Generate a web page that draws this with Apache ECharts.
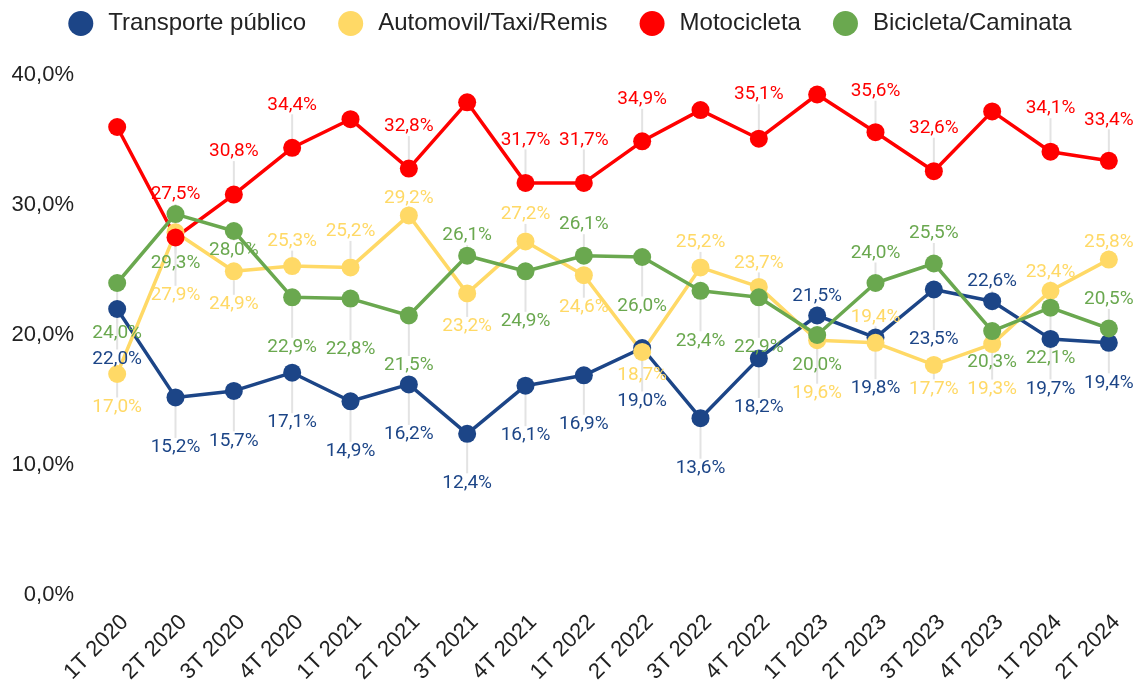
<!DOCTYPE html>
<html>
<head>
<meta charset="utf-8">
<script src="https://cdn.jsdelivr.net/npm/echarts@6/dist/echarts.min.js"></script>
<style>
  html, body { margin: 0; padding: 0; background: #ffffff; }
  #chart { width: 1140px; height: 686px; }
</style>
</head>
<body>
<div id="chart"></div>
<script>
const categories = ['1T 2020', '2T 2020', '3T 2020', '4T 2020', '1T 2021', '2T 2021', '3T 2021', '4T 2021',
    '1T 2022', '2T 2022', '3T 2022', '4T 2022', '1T 2023', '2T 2023', '3T 2023', '4T 2023', '1T 2024', '2T 2024']

const transportePublico = [22.0, 15.2, 15.7, 17.1, 14.9, 16.2, 12.4, 16.1, 16.9, 19.0, 13.6, 18.2, 21.5, 19.8, 23.5, 22.6, 19.7, 19.4]
const automovil = [17.0, 27.9, 24.9, 25.3, 25.2, 29.2, 23.2, 27.2, 24.6, 18.7, 25.2, 23.7, 19.6, 19.4, 17.7, 19.3, 23.4, 25.8]
const motocicleta = [36.0, 27.5, 30.8, 34.4, 36.6, 32.8, 37.9, 31.7, 31.7, 34.9, 37.3, 35.1, 38.5, 35.6, 32.6, 37.2, 34.1, 33.4]
const bicicleta = [24.0, 29.3, 28.0, 22.9, 22.8, 21.5, 26.1, 24.9, 26.1, 26.0, 23.4, 22.9, 20.0, 24.0, 25.5, 20.3, 22.1, 20.5]

const yTicks = [0, 10, 20, 30, 40]

// vertical label shift from the point (px), null = label not shown
const transporteLabelDy = [50, 50, 50, 50, 50, 50, 49, 50, 49, 53, 50, 49, -19, 51, 50, -20, 50, 40]
const automovilLabelDy = [33, 63, 33, -25, -36, -17, 33, -27, 32, 23, -25, -24, 53, -26, 24, 45, -19, -17]
const motoLabelDy = [null, -43, -43, -43, null, -42, null, -43, -43, -42, null, -44, null, -41, -43, null, -43, -41]
const bicicletaLabelDy = [50, 49, 19, 50, 51, 50, -20, 50, -31, 49, 50, 50, 30, -30, -30, 31, 51, -29]

const pct = v => v.toFixed(1).replace('.', ',') + '%'

function makeSeries(name, values, color, labelDy) {
    return {
        name: name,
        type: 'line',
        data: values.map((v, i) => ({
            value: v,
            label: { show: labelDy[i] != null }
        })),
        symbol: 'circle',
        symbolSize: 18,
        lineStyle: { width: 3.5, color: color },
        itemStyle: { color: color },
        label: {
            show: true,
            position: 'inside',
            formatter: p => pct(p.value),
            color: color,
            fontFamily: 'Roboto',
            fontSize: 19
        },
        labelLine: {
            show: true,
            lineStyle: { color: '#e3e3e3', width: 2 }
        },
        labelLayout: params => ({ dy: labelDy[params.dataIndex] || 0 })
    }
}

const chart = echarts.init(document.getElementById('chart'))

chart.setOption({
    animation: false,
    legend: {
        top: 6,
        left: 'center',
        icon: 'circle',
        itemWidth: 25,
        itemHeight: 25,
        itemGap: 32,
        textStyle: {
            fontFamily: 'Liberation Sans',
            fontSize: 24,
            color: '#222222',
            padding: [0, 0, 0, 10]
        }
    },
    grid: {
        top: 75,
        left: 88,
        right: 2,
        bottom: 91,
        outerBoundsMode: 'none'
    },
    xAxis: {
        type: 'category',
        data: categories,
        axisLine: { show: false },
        axisTick: { show: false },
        axisLabel: {
            rotate: 45,
            interval: 0,
            margin: 16,
            verticalAlign: 'top',
            fontFamily: 'Liberation Sans',
            fontSize: 22,
            color: '#222222'
        }
    },
    yAxis: {
        type: 'value',
        min: yTicks[0],
        max: yTicks[yTicks.length - 1],
        interval: 10,
        splitLine: { show: false },
        axisLine: { show: false },
        axisTick: { show: false },
        axisLabel: {
            margin: 14,
            formatter: v => pct(v),
            fontFamily: 'Liberation Sans',
            fontSize: 22,
            color: '#222222'
        }
    },
    series: [
        makeSeries('Transporte público', transportePublico, '#1c4587', transporteLabelDy),
        makeSeries('Automovil/Taxi/Remis', automovil, '#ffd966', automovilLabelDy),
        makeSeries('Motocicleta', motocicleta, '#ff0000', motoLabelDy),
        makeSeries('Bicicleta/Caminata', bicicleta, '#6aa84f', bicicletaLabelDy)
    ]
})
</script>
</body>
</html>
